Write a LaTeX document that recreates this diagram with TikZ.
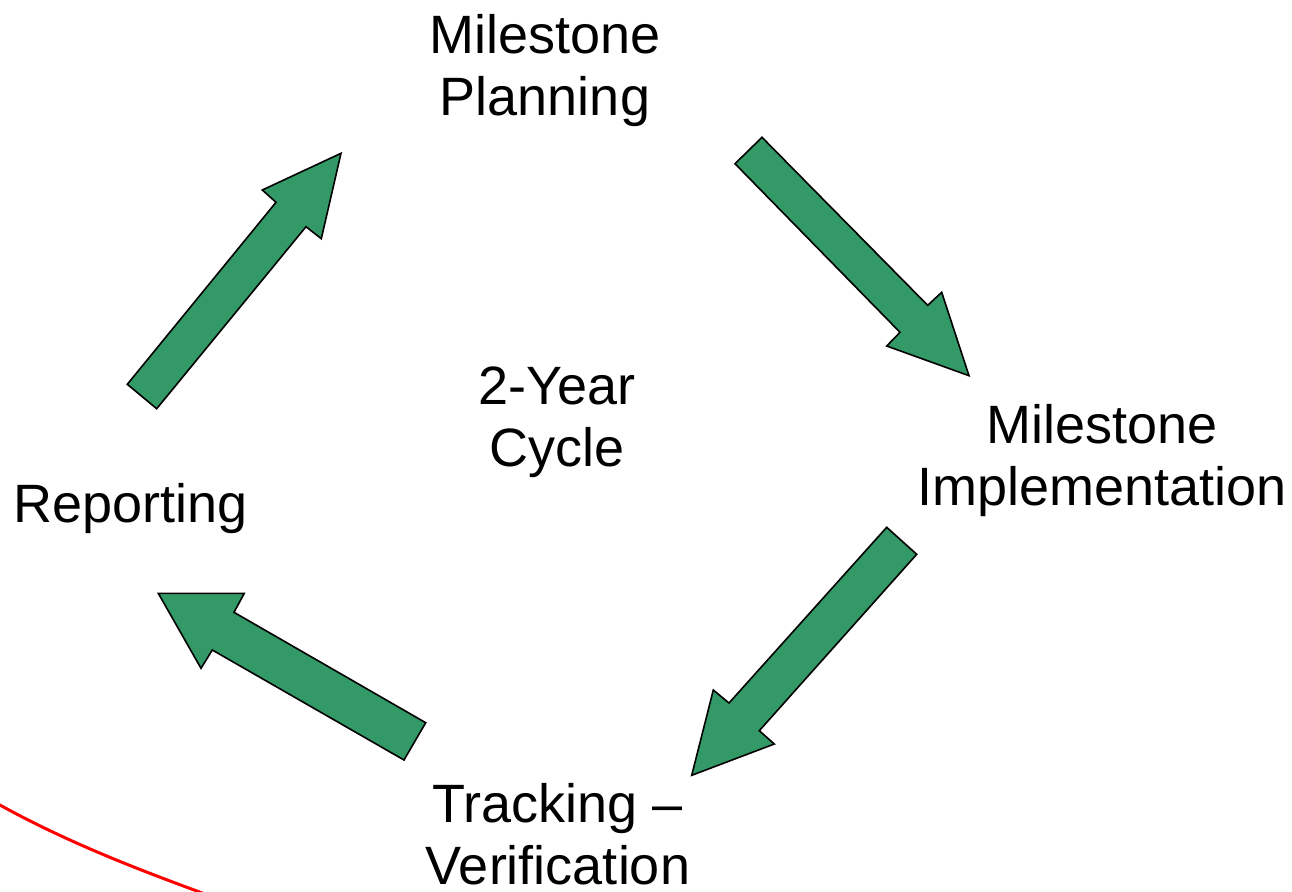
\documentclass[tikz,border=0pt]{standalone}
\usepackage{fontspec}
\setmainfont{Liberation Sans}
\definecolor{arrowgreen}{RGB}{51,153,102}
\begin{document}
\begin{tikzpicture}[x=0.5pt,y=-0.5pt,
  lbl/.style={inner sep=0pt,align=center,anchor=base,font=\fontsize{27}{31}\selectfont},
  blockarrow/.style={fill=arrowgreen,draw=black,line width=0.8pt,line join=miter}]
\useasboundingbox (0,0) rectangle (1292,891);
\clip (0,0) rectangle (1292,891);
% labels (base anchor = baseline of last line)
\node[lbl] (plan) at (545,115) {Milestone\\Planning};
\node[lbl] (impl) at (1102,505) {Milestone\\Implementation};
\node[lbl] (cycle) at (557,466) {2-Year\\Cycle};
\node[lbl] (rep) at (131,522) {Reporting};
\node[lbl] (track) at (558,884) {Tracking –\\Verification};
% block arrows
\draw[blockarrow] (127.3,384.3) -- (276,202.3) -- (262.3,190) -- (341,153.3) -- (321.3,238.7) -- (306,226.7) -- (156.7,408.7) -- cycle;
\draw[blockarrow] (762,137.3) -- (927.7,305.3) -- (941.7,292.3) -- (969,375.7) -- (886.7,346) -- (900,332.3) -- (735,163.7) -- cycle;
\draw[blockarrow] (886.7,527.3) -- (916.7,554.3) -- (759.3,730.7) -- (774.3,744) -- (691.7,775.3) -- (713.3,690) -- (729,703) -- cycle;
\draw[blockarrow] (425.7,722.7) -- (404,760) -- (212.3,650) -- (201,668.3) -- (158.3,593.3) -- (244.3,593.3) -- (234,612.3) -- cycle;
% red curve
\draw[red,line width=1.5pt] (-10,799.5) .. controls (65,842) and (140,870) .. (205,894);
\end{tikzpicture}
\end{document}
